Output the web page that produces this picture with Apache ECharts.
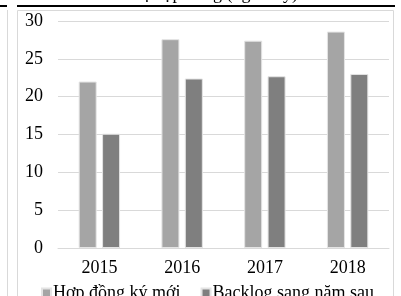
<!DOCTYPE html>
<html>
<head>
<meta charset="UTF-8">
<title>Giá trị hợp đồng</title>
<style>
  html, body { margin: 0; padding: 0; background: #fff; }
  #chart { width: 401px; height: 296px; }
</style>
</head>
<body>
<div id="chart"></div>
<script src="https://cdn.jsdelivr.net/npm/echarts@6/dist/echarts.min.js"></script>
<script>
  // du lieu
  const years = ['2015', '2016', '2017', '2018'];
  const hopDongMoi = [22.0, 27.6, 27.4, 28.6];
  const backlog = [15.1, 22.4, 22.7, 23.0];
  const yTicks = [0, 5, 10, 15, 20, 25, 30];

  const chart = echarts.init(document.getElementById('chart'));
  const font = '"Liberation Serif", "Times New Roman", serif';

  const option = {
    animation: false,
    textStyle: { fontFamily: font },
    title: {
      text: 'Giá trị hợp đồng (nghìn tỷ)',
      left: 'center',
      top: -20,
      textStyle: { fontFamily: font, fontSize: 18, fontWeight: 'normal', color: '#000' }
    },
    graphic: [
      // khung va duong ke trang tai lieu
      { type: 'rect', shape: { x: 17.5, y: 10.5, width: 376, height: 300 },
        style: { fill: 'none', stroke: '#d9d9d9', lineWidth: 1 }, z: -1 },
      { type: 'line', shape: { x1: 17, y1: 6, x2: 395, y2: 6 },
        style: { stroke: '#000', lineWidth: 2 }, z: 10 },
      { type: 'line', shape: { x1: 0, y1: 6, x2: 7, y2: 6 },
        style: { stroke: '#000', lineWidth: 2 }, z: 10 },
      { type: 'line', shape: { x1: 7.5, y1: 10, x2: 7.5, y2: 296 },
        style: { stroke: '#d9d9d9', lineWidth: 1 } }
    ],
    grid: { left: 58, right: 12, top: 21, bottom: 48 },
    legend: {
      data: ['Hợp đồng ký mới', 'Backlog sang năm sau'],
      left: 36,
      top: 279,
      itemWidth: 9,
      itemHeight: 9,
      itemGap: 20,
      icon: 'rect',
      textStyle: { fontFamily: font, fontSize: 18, color: '#000', padding: [0, 0, 0, -3] }
    },
    xAxis: {
      type: 'category',
      data: years,
      axisLine: { lineStyle: { color: '#d9d9d9', width: 1 } },
      axisTick: { show: false },
      axisLabel: { color: '#000', fontSize: 18, fontFamily: font, margin: 11 }
    },
    yAxis: {
      type: 'value',
      min: 0,
      max: 30,
      interval: 5,
      axisLine: { show: false },
      axisTick: { show: false },
      splitLine: { lineStyle: { color: '#d9d9d9', width: 1 } },
      axisLabel: {
        color: '#000', fontSize: 18, fontFamily: font, margin: 15,
        formatter: v => yTicks.includes(v) ? String(v) : ''
      }
    },
    series: [
      {
        name: 'Hợp đồng ký mới',
        type: 'bar',
        data: hopDongMoi,
        barWidth: 18,
        barGap: '30%',
        itemStyle: { color: '#a5a5a5', borderColor: '#e4e4e4', borderWidth: 1 }
      },
      {
        name: 'Backlog sang năm sau',
        type: 'bar',
        data: backlog,
        barWidth: 18,
        itemStyle: { color: '#7f7f7f', borderColor: '#e4e4e4', borderWidth: 1 }
      }
    ]
  };

  chart.setOption(option);
</script>
</body>
</html>
